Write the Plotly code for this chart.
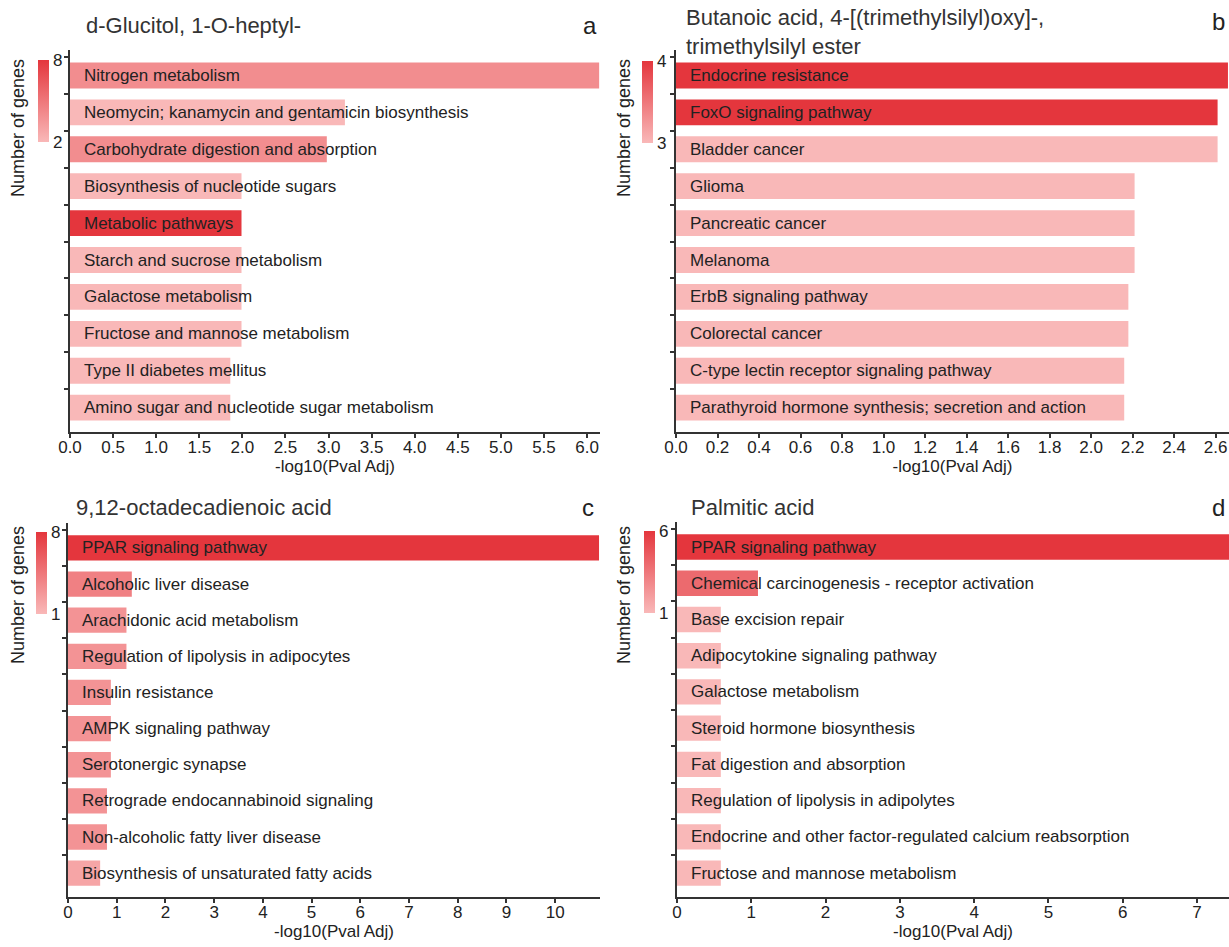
import plotly.graph_objects as go

W, H = 1229, 947

# ---------------- data ----------------
a_title = "d-Glucitol, 1-O-heptyl-"
a_terms = ["Nitrogen metabolism", "Neomycin; kanamycin and gentamicin biosynthesis",
           "Carbohydrate digestion and absorption", "Biosynthesis of nucleotide sugars",
           "Metabolic pathways", "Starch and sucrose metabolism", "Galactose metabolism",
           "Fructose and mannose metabolism", "Type II diabetes mellitus",
           "Amino sugar and nucleotide sugar metabolism"]
a_pval = [6.14, 3.19, 2.98, 1.99, 1.99, 1.99, 1.99, 1.99, 1.86, 1.86]
a_genes = [4, 2, 4, 2, 8, 2, 2, 2, 2, 2]
a_ticks = [0.0, 0.5, 1.0, 1.5, 2.0, 2.5, 3.0, 3.5, 4.0, 4.5, 5.0, 5.5, 6.0]

b_title = "Butanoic acid, 4-[(trimethylsilyl)oxy]-,<br>trimethylsilyl ester"
b_terms = ["Endocrine resistance", "FoxO signaling pathway", "Bladder cancer", "Glioma",
           "Pancreatic cancer", "Melanoma", "ErbB signaling pathway", "Colorectal cancer",
           "C-type lectin receptor signaling pathway",
           "Parathyroid hormone synthesis; secretion and action"]
b_pval = [2.66, 2.61, 2.61, 2.21, 2.21, 2.21, 2.18, 2.18, 2.16, 2.16]
b_genes = [4, 4, 3, 3, 3, 3, 3, 3, 3, 3]
b_ticks = [0.0, 0.2, 0.4, 0.6, 0.8, 1.0, 1.2, 1.4, 1.6, 1.8, 2.0, 2.2, 2.4, 2.6]

c_title = "9,12-octadecadienoic acid"
c_terms = ["PPAR signaling pathway", "Alcoholic liver disease", "Arachidonic acid metabolism",
           "Regulation of lipolysis in adipocytes", "Insulin resistance", "AMPK signaling pathway",
           "Serotonergic synapse", "Retrograde endocannabinoid signaling",
           "Non-alcoholic fatty liver disease", "Biosynthesis of unsaturated fatty acids"]
c_pval = [10.9, 1.31, 1.2, 1.2, 0.88, 0.88, 0.88, 0.8, 0.8, 0.66]
c_genes = [8, 4, 3, 3, 3, 3, 3, 3, 3, 2]
c_ticks = [0, 1, 2, 3, 4, 5, 6, 7, 8, 9, 10]

d_title = "Palmitic acid"
d_terms = ["PPAR signaling pathway", "Chemical carcinogenesis - receptor activation",
           "Base excision repair", "Adipocytokine signaling pathway", "Galactose metabolism",
           "Steroid hormone biosynthesis", "Fat digestion and absorption",
           "Regulation of lipolysis in adipolytes",
           "Endocrine and other factor-regulated calcium reabsorption",
           "Fructose and mannose metabolism"]
d_pval = [7.43, 1.09, 0.59, 0.59, 0.59, 0.59, 0.59, 0.59, 0.59, 0.59]
d_genes = [6, 4, 1, 1, 1, 1, 1, 1, 1, 1]
d_ticks = [0, 1, 2, 3, 4, 5, 6, 7]

# ---------------- styling / layout ----------------
FONT = "Liberation Sans, Arial, sans-serif"
TXT = "#222222"
AXC = "#333333"
CS = [[0, "#f9b8b8"], [1, "#e4363d"]]
FS = 17


def fx(p):
    return p / W


def fy(p):
    return 1 - p / H


panels = [
    dict(id="", terms=a_terms, vals=a_pval, genes=a_genes, ticks=a_ticks, fmt=".1f",
         title=a_title, letter="a", cmin=2, cmax=8, xr=[0, 6.15],
         xpx=(70, 600), ypx=(50, 432), cb=(38, 60), ttl=(84, 25), let=(590, 25), ng=(18, 128)),
    dict(id="2", terms=b_terms, vals=b_pval, genes=b_genes, ticks=b_ticks, fmt=".1f",
         title=b_title, letter="b", cmin=3, cmax=4, xr=[0, 2.665],
         xpx=(676, 1229), ypx=(50, 432), cb=(642, 61), ttl=(684, 32), let=(1218, 22), ng=(624, 128)),
    dict(id="3", terms=c_terms, vals=c_pval, genes=c_genes, ticks=c_ticks, fmt="d",
         title=c_title, letter="c", cmin=1, cmax=8, xr=[0, 10.92],
         xpx=(68, 600), ypx=(523, 897), cb=(36, 532), ttl=(74, 507), let=(588, 507), ng=(18, 595)),
    dict(id="4", terms=d_terms, vals=d_pval, genes=d_genes, ticks=d_ticks, fmt="d",
         title=d_title, letter="d", cmin=1, cmax=6, xr=[0, 7.43],
         xpx=(677, 1229), ypx=(522, 897), cb=(644, 531), ttl=(689, 507), let=(1218, 507), ng=(624, 595)),
]

fig = go.Figure()
layout = dict(width=W, height=H, margin=dict(l=0, r=0, t=0, b=0, autoexpand=False),
              paper_bgcolor="white", plot_bgcolor="white", showlegend=False,
              font=dict(family=FONT, color=TXT, size=FS), bargap=0.3)
annotations = []

for p in panels:
    xa, ya = "x" + p["id"], "y" + p["id"]
    n = len(p["terms"])
    fig.add_trace(go.Bar(
        x=p["vals"], y=p["terms"], orientation="h", xaxis=xa, yaxis=ya, width=0.7,
        marker=dict(color=p["genes"], colorscale=CS, cmin=p["cmin"], cmax=p["cmax"],
                    line=dict(width=0), showscale=True,
                    colorbar=dict(x=fx(p["cb"][0]), xanchor="left", xpad=0,
                                  y=fy(p["cb"][1]), yanchor="top", ypad=0,
                                  thickness=11, lenmode="pixels", len=82,
                                  outlinewidth=0, ticks="", ticklabelposition="outside",
                                  tickvals=[p["cmin"], p["cmax"]],
                                  tickfont=dict(family=FONT, size=FS, color=TXT))),
        hovertemplate="%{y}: %{x}<extra></extra>"))

    x0, x1 = p["xpx"]
    y0, y1 = p["ypx"]
    layout["xaxis" + p["id"]] = dict(
        domain=[fx(x0), fx(x1)], anchor=ya, range=p["xr"], tickvals=p["ticks"],
        tickformat=p["fmt"], showline=True, linecolor=AXC, linewidth=2, ticks="outside",
        ticklen=4, tickwidth=1.5, tickcolor=AXC, showgrid=False, zeroline=False,
        ticklabelstandoff=-5,
        tickfont=dict(family=FONT, size=FS, color=TXT),
        title=dict(text="-log10(Pval Adj)", standoff=2, font=dict(family=FONT, size=FS, color=TXT)))
    layout["yaxis" + p["id"]] = dict(
        domain=[fy(y1), fy(y0)], anchor=xa, type="category",
        categoryorder="array", categoryarray=p["terms"],
        range=[n - 1 + 0.66, -0.69], showticklabels=False, showline=True,
        linecolor=AXC, linewidth=2, ticks="outside", tickson="boundaries", ticklen=4,
        tickwidth=1.5, tickcolor=AXC, showgrid=False, zeroline=False)

    for t in p["terms"]:
        annotations.append(dict(x=0, y=t, xref=xa, yref=ya, text=t, showarrow=False,
                                xanchor="left", xshift=12,
                                font=dict(family=FONT, size=FS, color=TXT)))
    annotations.append(dict(x=fx(p["ttl"][0]), y=fy(p["ttl"][1]), xref="paper", yref="paper",
                            text=p["title"], showarrow=False, xanchor="left", yanchor="middle",
                            align="left", font=dict(family=FONT, size=22, color="#333333")))
    annotations.append(dict(x=fx(p["let"][0]), y=fy(p["let"][1]), xref="paper", yref="paper",
                            text=p["letter"], showarrow=False, xanchor="center", yanchor="middle",
                            font=dict(family=FONT, size=24, color="#222222")))
    annotations.append(dict(x=fx(p["ng"][0]), y=fy(p["ng"][1]), xref="paper", yref="paper",
                            text="Number of genes", textangle=-90, showarrow=False,
                            xanchor="center", yanchor="middle",
                            font=dict(family=FONT, size=18, color=TXT)))

layout["annotations"] = annotations
fig.update_layout(**layout)
fig.write_html("out.html")
